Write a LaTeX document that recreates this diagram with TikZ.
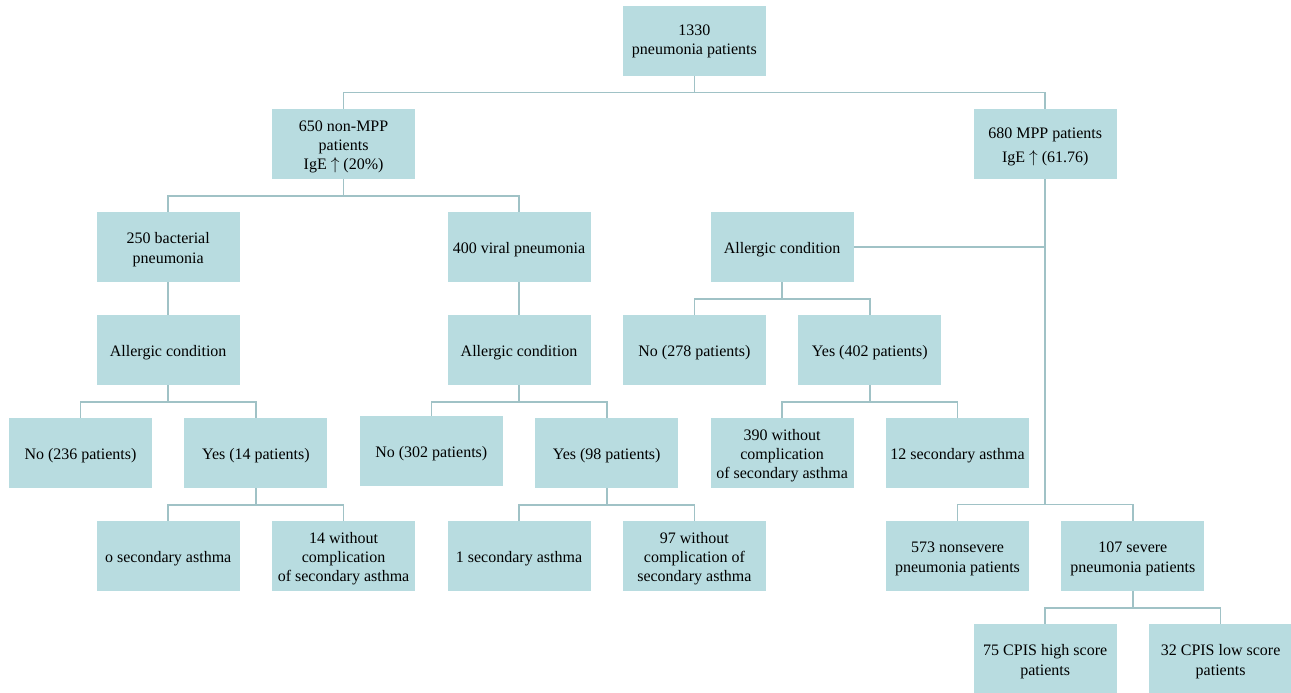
\documentclass[tikz,border=0pt]{standalone}
\usepackage{fontspec}
\setmainfont{Liberation Serif}
\newcommand{\hst}{\rule{0pt}{17pt}}
\newcommand{\dst}{\rule[-4pt]{0pt}{4pt}}
\begin{document}
\begin{tikzpicture}[x=1pt,y=1pt,
  box/.style={fill=boxfill, minimum width=143pt, minimum height=70pt, align=center, inner sep=0pt, font=\fontsize{16}{19}\selectfont},
  conn/.style={draw=linecol, line width=1.6pt}]
\definecolor{boxfill}{HTML}{B8DCE0}
\definecolor{linecol}{HTML}{A0C2C6}
\useasboundingbox (0,0) rectangle (1291,-693);
\newcommand{\cx}[1]{80.5+87.7*#1}
\newcommand{\ry}[1]{-(41+103*#1)}
% row 0
\node[box] (top) at ({\cx{7}},{\ry{0}}) {1330\\pneumonia patients};
% row 1
\node[box] (nonmpp) at ({\cx{3}},{\ry{1}}) {\hst 650 non-MPP\\patients\\IgE $\uparrow$ (20\%)\dst};
\node[box] (mpp) at ({\cx{11}},{\ry{1}}) {\hst 680 MPP patients\\[5pt]IgE $\uparrow$ (61.76)\dst};
% row 2
\node[box] (bact) at ({\cx{1}},{\ry{2}}) {\hst 250 bacterial\\[1pt]pneumonia\dst};
\node[box] (viral) at ({\cx{5}},{\ry{2}}) {\hst 400 viral pneumonia\dst};
\node[box] (allM) at ({\cx{8}},{\ry{2}}) {\hst Allergic condition\dst};
% row 3
\node[box] (allL) at ({\cx{1}},{\ry{3}}) {\hst Allergic condition\dst};
\node[box] (allV) at ({\cx{5}},{\ry{3}}) {\hst Allergic condition\dst};
\node[box] (no278) at ({\cx{7}},{\ry{3}}) {\hst No (278 patients)\dst};
\node[box] (yes402) at ({\cx{9}},{\ry{3}}) {\hst Yes (402 patients)\dst};
% row 4
\node[box] (no236) at ({\cx{0}},{\ry{4}}) {\hst No (236 patients)\dst};
\node[box] (yes14) at ({\cx{2}},{\ry{4}}) {\hst Yes (14 patients)\dst};
\node[box] (no302) at ({\cx{4}},{\ry{4}+2}) {\hst No (302 patients)\dst};
\node[box] (yes98) at ({\cx{6}},{\ry{4}}) {\hst Yes (98 patients)\dst};
\node[box] (w390) at ({\cx{8}},{\ry{4}}) {\hst 390 without\\complication\\of secondary asthma\dst};
\node[box] (s12) at ({\cx{10}},{\ry{4}}) {\hst 12 secondary asthma\dst};
% row 5
\node[box] (s0) at ({\cx{1}},{\ry{5}}) {\hst o secondary asthma\dst};
\node[box] (w14) at ({\cx{3}},{\ry{5}}) {\hst 14 without\\complication\\of secondary asthma\dst};
\node[box] (s1) at ({\cx{5}},{\ry{5}}) {\hst 1 secondary asthma\dst};
\node[box] (w97) at ({\cx{7}},{\ry{5}}) {\hst 97 without\\complication of\\secondary asthma\dst};
\node[box] (n573) at ({\cx{10}},{\ry{5}}) {\hst 573 nonsevere\\[1pt]pneumonia patients\dst};
\node[box] (n107) at ({\cx{12}},{\ry{5}}) {\hst 107 severe\\[1pt]pneumonia patients\dst};
% row 6
\node[box] (c75) at ({\cx{11}},{\ry{6}}) {\hst 75 CPIS high score\\[1pt]patients\dst};
\node[box] (c32) at ({\cx{13}},{\ry{6}}) {\hst 32 CPIS low score\\[1pt]patients\dst};
% connectors
\draw[conn] (top.south) -- ++(0,-16.5) coordinate (b0);
\draw[conn] (nonmpp.north) |- (b0) -| (mpp.north);
\draw[conn] (nonmpp.south) -- ++(0,-16.5) coordinate (b1);
\draw[conn] (bact.north) |- (b1) -| (viral.north);
\draw[conn] (bact.south) -- (allL.north);
\draw[conn] (viral.south) -- (allV.north);
\draw[conn] (allL.south) -- ++(0,-16.5) coordinate (b2);
\draw[conn] (no236.north) |- (b2) -| (yes14.north);
\draw[conn] (allV.south) -- ++(0,-16.5) coordinate (b3);
\draw[conn] (no302.north) |- (b3) -| (yes98.north);
\draw[conn] (yes14.south) -- ++(0,-16.5) coordinate (b4);
\draw[conn] (s0.north) |- (b4) -| (w14.north);
\draw[conn] (yes98.south) -- ++(0,-16.5) coordinate (b5);
\draw[conn] (s1.north) |- (b5) -| (w97.north);
\draw[conn] (allM.south) -- ++(0,-16.5) coordinate (b6);
\draw[conn] (no278.north) |- (b6) -| (yes402.north);
\draw[conn] (yes402.south) -- ++(0,-16.5) coordinate (b7);
\draw[conn] (w390.north) |- (b7) -| (s12.north);
\path (n573.north) ++(0,16.5) coordinate (h8);
\draw[conn] (mpp.south) -- (mpp.south |- h8) coordinate (b8);
\draw[conn] (n573.north) |- (b8) -| (n107.north);
\draw[conn] (allM.east) -- (allM.east -| mpp.south);
\draw[conn] (n107.south) -- ++(0,-16.5) coordinate (b9);
\draw[conn] (c75.north) |- (b9) -| (c32.north);
\end{tikzpicture}
\end{document}
